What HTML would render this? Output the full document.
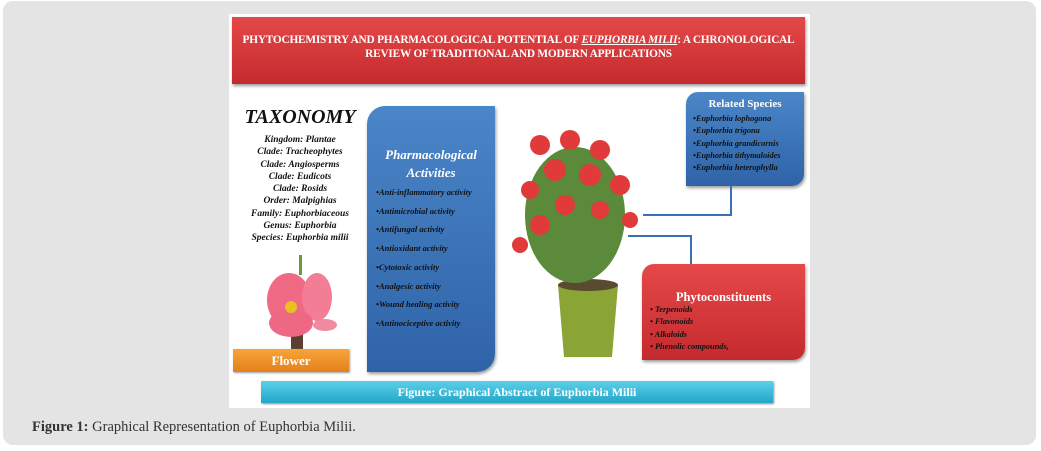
<!DOCTYPE html>
<html><head><meta charset="utf-8"><style>
body{margin:0;width:1041px;height:451px;background:#fff;position:relative;overflow:hidden;font-family:"Liberation Serif",serif}
.a{position:absolute}
#panel{left:3px;top:1px;width:1033px;height:444px;background:#e4e4e4;border-radius:10px}
#img{left:229px;top:14px;width:581px;height:394px;background:#fff}
#title{left:232px;top:17px;width:573px;height:67px;background:linear-gradient(#e54848,#c42a2e);box-shadow:1px 2px 3px #999;color:#fff;font-weight:bold;font-size:11.3px;text-align:center;line-height:14px;padding-top:16px;box-sizing:border-box;white-space:nowrap;letter-spacing:-0.2px}
.tax{left:240px;width:120px;text-align:center;font-style:italic;font-weight:bold;font-size:9.5px;line-height:12.3px;color:#111;white-space:nowrap}
#pharm{left:367px;top:106px;width:128px;height:266px;background:linear-gradient(#4a86c8,#2f63a8);border-radius:18px 0 18px 0;box-shadow:1px 2px 3px #999}
.it{font-style:italic;font-weight:bold;font-size:8.5px;color:#111;white-space:nowrap}
#rel{left:686px;top:92px;width:118px;height:94px;background:linear-gradient(#4a86c8,#2f63a8);border-radius:12px 0 12px 0;box-shadow:1px 2px 3px #999}
#phy{left:642px;top:264px;width:163px;height:96px;background:linear-gradient(#e54848,#c42a2e);border-radius:12px 0 12px 0;box-shadow:1px 2px 3px #999}
.ln{background:#3d6fb5}
</style></head><body>
<div class="a" id="panel"></div>
<div class="a" id="img"></div>
<div class="a" id="title">PHYTOCHEMISTRY AND PHARMACOLOGICAL POTENTIAL OF <u><i>EUPHORBIA MILII</i></u>: A CHRONOLOGICAL<br>REVIEW OF TRADITIONAL AND MODERN APPLICATIONS</div>
<div class="a" style="left:240px;top:106px;width:120px;text-align:center;font-style:italic;font-weight:bold;font-size:20px;color:#111;white-space:nowrap">TAXONOMY</div>
<div class="a tax" style="top:134px">Kingdom: Plantae<br>Clade: Tracheophytes<br>Clade: Angiosperms<br>Clade: Eudicots<br>Clade: Rosids<br>Order: Malpighias<br>Family: Euphorbiaceous<br>Genus: Euphorbia<br>Species: Euphorbia milii</div>
<svg class="a" style="left:255px;top:255px" width="90" height="95"><rect x="44" y="0" width="3" height="20" fill="#6a9a3a"/><rect x="36" y="70" width="12" height="25" fill="#5a4030"/><ellipse cx="34" cy="45" rx="22" ry="27" fill="#f06a86"/><ellipse cx="62" cy="42" rx="15" ry="24" fill="#f27d94"/><ellipse cx="36" cy="68" rx="22" ry="14" fill="#ee6783"/><ellipse cx="70" cy="70" rx="12" ry="6" fill="#f08aa0"/><circle cx="36" cy="52" r="6" fill="#e8c020"/></svg>
<div class="a" style="left:233px;top:349px;width:116px;height:23px;background:linear-gradient(#f7a53a,#e5801c);box-shadow:1px 1px 2px #999;color:#fff;font-weight:bold;font-size:13px;text-align:center;line-height:23px">Flower</div>
<div class="a" id="pharm"></div>
<div class="a" style="left:367px;top:146px;width:128px;text-align:center;color:#fff;font-style:italic;font-weight:bold;font-size:13px;line-height:18px">Pharmacological<br>Activities</div>
<div class="a it" style="left:376px;top:183px;line-height:18.7px">•Anti-inflammatory activity<br>•Antimicrobial activity<br>•Antifungal activity<br>•Antioxidant activity<br>•Cytotoxic activity<br>•Analgesic activity<br>•Wound healing activity<br>•Antinociceptive activity</div>
<svg class="a" style="left:500px;top:125px" width="150" height="240">
<polygon points="58,160 118,160 112,232 64,232" fill="#8aa436"/><ellipse cx="88" cy="160" rx="30" ry="6" fill="#5a4a30"/>
<ellipse cx="75" cy="90" rx="50" ry="68" fill="#5a8a3a"/>
<g fill="#e03a3a"><circle cx="40" cy="20" r="10"/><circle cx="70" cy="15" r="10"/><circle cx="100" cy="25" r="10"/><circle cx="55" cy="45" r="11"/><circle cx="90" cy="50" r="11"/><circle cx="120" cy="60" r="10"/><circle cx="30" cy="65" r="9"/><circle cx="65" cy="80" r="10"/><circle cx="100" cy="85" r="9"/><circle cx="40" cy="100" r="10"/><circle cx="130" cy="95" r="8"/><circle cx="20" cy="120" r="8"/></g>
</svg>
<div class="a" id="rel"></div>
<div class="a" style="left:686px;top:98px;width:118px;text-align:center;color:#fff;font-weight:bold;font-size:11px">Related Species</div>
<div class="a it" style="left:693px;top:113px;line-height:12.3px;font-size:8.3px">•Euphorbia lophogona<br>•Euphorbia trigona<br>•Euphorbia grandicornis<br>•Euphorbia tithymaloides<br>•Euphorbia heterophylla</div>
<div class="a ln" style="left:730px;top:186px;width:2px;height:30px"></div>
<div class="a ln" style="left:643px;top:214px;width:89px;height:2px"></div>
<div class="a ln" style="left:628px;top:235px;width:64px;height:2px"></div>
<div class="a ln" style="left:690px;top:235px;width:2px;height:29px"></div>
<div class="a" id="phy"></div>
<div class="a" style="left:642px;top:290px;width:163px;text-align:center;color:#fff;font-weight:bold;font-size:12.5px">Phytoconstituents</div>
<div class="a it" style="left:650px;top:304px;line-height:12.3px;font-size:8.3px">• Terpenoids<br>• Flavonoids<br>• Alkaloids<br>• Phenolic compounds,</div>
<div class="a" style="left:261px;top:381px;width:512px;height:22px;background:linear-gradient(#5bd0ea,#23a6c8);box-shadow:1px 1px 2px #888;color:#fff;font-weight:bold;font-size:12px;text-align:center;line-height:22px">Figure: Graphical Abstract of Euphorbia Milii</div>
<div class="a" style="left:32px;top:419px;font-size:14.5px;color:#333"><b>Figure 1:</b> Graphical Representation of Euphorbia Milii.</div>
</body></html>
